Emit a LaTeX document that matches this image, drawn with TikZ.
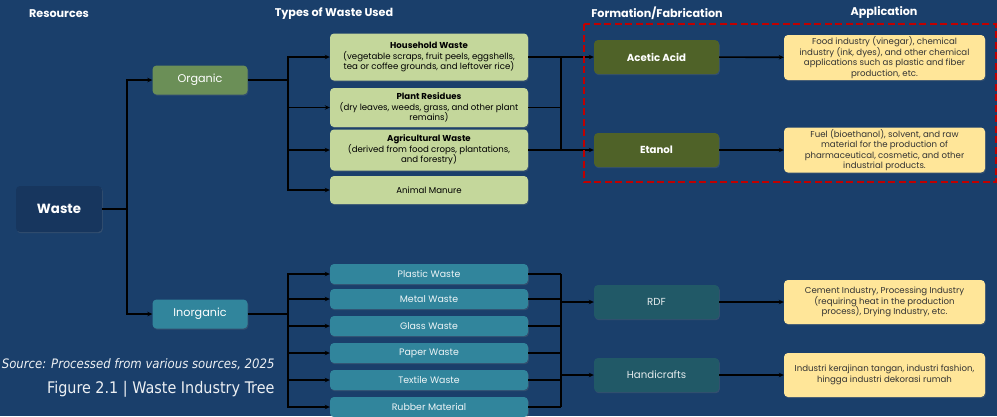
\documentclass[tikz,border=0pt]{standalone}
\usepackage{fontspec}
\setmainfont{Poppins}
\newfontfamily\capfont{DejaVu Sans Condensed}
\usetikzlibrary{positioning, calc, arrows.meta, shadows}

\definecolor{bgblue}{HTML}{1A3F6B}
\definecolor{wastebg}{HTML}{17365E}
\definecolor{orggreen}{HTML}{6B8F57}
\definecolor{lightgreen}{HTML}{C4D79B}
\definecolor{olivedark}{HTML}{4F6228}
\definecolor{aqua}{HTML}{31859C}
\definecolor{aquadark}{HTML}{215967}
\definecolor{appyellow}{HTML}{FFE699}
\definecolor{framered}{HTML}{C00000}

\begin{document}
\begin{tikzpicture}[x=1pt, y=-1pt,
  box/.style={rounded corners=4pt, inner sep=0pt, align=center,
    drop shadow={opacity=0.25, shadow xshift=0.8pt, shadow yshift=-1.2pt}},
  head/.style={text=white, font=\bfseries\fontsize{11.2}{13}\selectfont},
  typebox/.style={box, fill=lightgreen, text=black, minimum width=198pt,
    font=\fontsize{8.6}{10.6}\selectfont},
  inbox/.style={box, fill=aqua, text=white!92!aqua, minimum width=198pt,
    minimum height=20pt, font=\fontsize{9.4}{11}\selectfont},
  formbox/.style={box, minimum width=125pt, minimum height=34pt},
  appbox/.style={box, fill=appyellow, text=black!80, minimum width=201pt,
    font=\fontsize{8.6}{10.5}\selectfont},
  conn/.style={draw=black, line width=1.6pt},
  arr/.style={conn, -{Stealth[length=5pt, width=4.5pt]}}]

  \fill[bgblue] (0,0) rectangle (997,416);
  \useasboundingbox (0,0) rectangle (997,416);

  % column titles
  \node[head] (hres)  at (59,14)  {Resources};
  \node[head] (htype) at (334,14) {Types of Waste Used};
  \node[head] (hform) at (657,13) {Formation/Fabrication};
  \node[head] (happ)  at (884,13) {Application};

  % source
  \node[box, fill=wastebg, text=white, minimum width=86pt, minimum height=46pt,
    font=\bfseries\fontsize{13.3}{15}\selectfont] (waste) at (59,209) {Waste};
  \node[box, fill=orggreen, text=white, minimum width=95pt, minimum height=29pt,
    font=\fontsize{11.2}{13}\selectfont] (org) at (200,80) {Organic};
  \node[box, fill=aqua, text=white, minimum width=95pt, minimum height=29pt,
    font=\fontsize{11.2}{13}\selectfont] (inorg) at (200,314) {Inorganic};

  % organic types
  \node[typebox, minimum height=47pt] (hh) at (429,57)
    {\textbf{Household Waste}\\(vegetable scraps, fruit peels, eggshells,\\tea or coffee grounds, and leftover rice)};
  \node[typebox, minimum height=39pt] (plant) at (429,107.5)
    {\textbf{Plant Residues}\\(dry leaves, weeds, grass, and other plant\\remains)};
  \node[typebox, minimum height=41pt] (agri) at (429,150)
    {\textbf{Agricultural Waste}\\(derived from food crops, plantations,\\and forestry)};
  \node[typebox, minimum height=28pt] (manure) at (429,190) {Animal Manure};

  % inorganic types
  \node[inbox] (plastic) at (429,274) {Plastic Waste};
  \node[inbox] (metal)   at (429,299) {Metal Waste};
  \node[inbox] (glass)   at (429,326) {Glass Waste};
  \node[inbox] (paper)   at (429,353) {Paper Waste};
  \node[inbox] (textile) at (429,380) {Textile Waste};
  \node[inbox] (rubber)  at (429,407) {Rubber Material};

  % formation
  \node[formbox, fill=olivedark, text=white, font=\bfseries\fontsize{10.2}{12}\selectfont]
    (acetic) at (656.5,57) {Acetic Acid};
  \node[formbox, fill=olivedark, text=white, font=\bfseries\fontsize{10.2}{12}\selectfont]
    (etanol) at (656.5,150) {Etanol};
  \node[formbox, fill=aquadark, text=white!88!aquadark, font=\fontsize{10.2}{12}\selectfont]
    (rdf) at (656.5,302) {RDF};
  \node[formbox, fill=aquadark, text=white!88!aquadark, font=\fontsize{10.2}{12}\selectfont]
    (craft) at (656.5,375) {Handicrafts};

  % application
  \node[appbox, minimum height=45pt] (appa) at (884.5,57.5)
    {Food industry (vinegar), chemical\\industry (ink, dyes), and other chemical\\applications such as plastic and fiber\\production, etc.};
  \node[appbox, minimum height=45pt] (appb) at (884.5,150)
    {Fuel (bioethanol), solvent, and raw\\material for the production of\\pharmaceutical, cosmetic, and other\\industrial products.};
  \node[appbox, minimum height=44pt] (appc) at (884.5,302)
    {Cement Industry, Processing Industry\\(requiring heat in the production\\process), Drying Industry, etc.};
  \node[appbox, minimum height=44pt] (appd) at (884.5,375)
    {Industri kerajinan tangan, industri fashion,\\hingga industri dekorasi rumah};

  % joints
  \coordinate (jw) at (127,209);
  \coordinate (jo) at (288,80);
  \coordinate (ji) at (288,314);
  \coordinate (fa) at (561,57);
  \coordinate (fb) at (561,150);
  \coordinate (fc) at (561,274);
  \coordinate (fd) at (561,407);

  % waste to resources
  \draw[conn] (waste) -- (jw);
  \draw[arr] (jw) |- (org);
  \draw[arr] (jw) |- (inorg);

  % resources to types
  \draw[conn] (org) -- (jo);
  \draw[conn] (inorg) -- (ji);
  \foreach \t in {hh, plant, agri, manure}
    \draw[arr] (jo) |- (\t.west);
  \foreach \t in {plastic, metal, glass, paper, textile, rubber}
    \draw[arr] (ji) |- (\t.west);

  % types to formation
  \draw[conn] (fa) -- (fb);
  \draw[arr] (hh) -- (acetic);
  \draw[conn] (plant.east) -- (plant.east -| fa);
  \draw[arr] (agri) -- (etanol);
  \draw[conn] (fc) -- (fd);
  \foreach \t in {plastic, metal, glass, paper, textile, rubber}
    \draw[conn] (\t.east) -- (\t.east -| fc);
  \draw[arr] (fc |- rdf) -- (rdf);
  \draw[arr] (fc |- craft) -- (craft);

  % formation to application
  \draw[arr] (acetic) -- (appa);
  \draw[arr] (etanol) -- (appb);
  \draw[arr] (rdf) -- (appc);
  \draw[arr] (craft) -- (appd);

  % organic products frame
  \draw[framered, line width=1.7pt, dash pattern=on 7pt off 3.5pt] (584,24) rectangle (996,182);

  % caption
  \node[anchor=east, text=white!92!bgblue, font=\capfont\itshape\fontsize{13}{15}\selectfont]
    (src) at (278,364) {Source: Processed from various sources, 2025};
  \node[anchor=east, text=white!92!bgblue, font=\capfont\fontsize{16}{18}\selectfont]
    (fig) at (278,389) {Figure 2.1 | Waste Industry Tree};
\end{tikzpicture}
\end{document}
